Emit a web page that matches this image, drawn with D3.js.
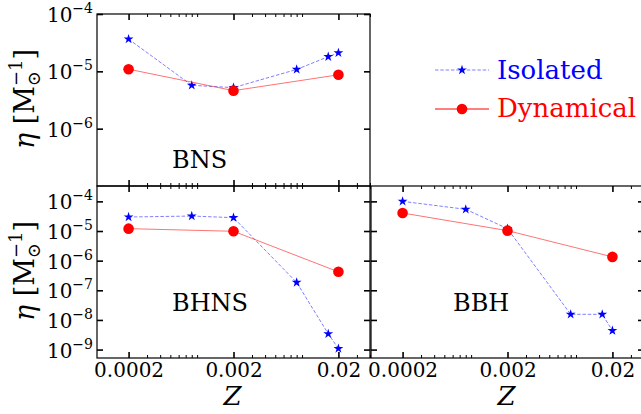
<!DOCTYPE html>
<html><head><meta charset="utf-8">
<script src="https://cdn.jsdelivr.net/npm/d3@7"></script>
<style>
html,body{margin:0;padding:0;background:#fff;}
svg{display:block;}
</style></head>
<body><svg id="c" width="641" height="414" font-family="'DejaVu Serif', 'Liberation Serif', serif"></svg>
<script>
// ---------- data ----------
const zIso = [0.0002, 0.0008, 0.002, 0.008, 0.016, 0.02];
const zDyn = [0.0002, 0.002, 0.02];
const bnsIso  = [3.65e-5, 5.7e-6, 5.2e-6, 1.08e-5, 1.8e-5, 2.1e-5];
const bnsDyn  = [1.09e-5, 4.6e-6, 8.7e-6];
const bhnsIso = [2.97e-5, 3.2e-5, 2.82e-5, 1.84e-7, 3.4e-9, 1.08e-9];
const bhnsDyn = [1.2e-5, 9.8e-6, 4.2e-7];
const bbhIso  = [1.0e-4, 5.4e-5, 1.2e-5, 1.55e-8, 1.55e-8, 4.35e-9];
const bbhDyn  = [4.05e-5, 1.03e-5, 1.34e-6];
const xTickValues = [0.0002, 0.002, 0.02];
const xTickLabels = ["0.0002", "0.002", "0.02"];
const seriesNames = ["Isolated", "Dynamical"];
const panelNames = ["BNS", "BHNS", "BBH"];

// ---------- layout ----------
const FONT = "'DejaVu Serif', 'Liberation Serif', serif";
const svg = d3.select("#c");
const colX = [97, 371], rowY = [14, 186], PW = 273, PH = 172;
const xDomain = [1e-4, 0.04];
const minorX = [];
for (let e = -4; e <= -2; e++) for (let k = 2; k <= 9; k++) {
  const v = k * Math.pow(10, e);
  if (v >= xDomain[0] && v <= xDomain[1] * 1.0001 && !xTickValues.some(t => Math.abs(t - v) / v < 1e-6)) minorX.push(v);
}
const panels = [
  {name: panelNames[0], col: 0, row: 0, iso: bnsIso, dyn: bnsDyn, ydom: [1e-7, 1e-4], yt: [1e-4, 1e-5, 1e-6], xl: false, yl: true, lab: [75, 154]},
  {name: panelNames[1], col: 0, row: 1, iso: bhnsIso, dyn: bhnsDyn, ydom: [5.2e-10, 3.3e-4], yt: [1e-4,1e-5,1e-6,1e-7,1e-8,1e-9], xl: true, yl: true, lab: [75, 125]},
  {name: panelNames[2], col: 1, row: 1, iso: bbhIso, dyn: bbhDyn, ydom: [5.2e-10, 3.3e-4], yt: [1e-4,1e-5,1e-6,1e-7,1e-8,1e-9], xl: true, yl: false, lab: [82, 125]}
];
const blue = "#0000ff", red = "#ff0000";
const star = d3.symbol(d3.symbolStar).size(30);

panels.forEach(p => {
  const x0 = colX[p.col], y0 = rowY[p.row];
  const g = svg.append("g").attr("transform", `translate(${x0},${y0})`);
  const x = d3.scaleLog().domain(xDomain).range([0, PW]);
  const y = d3.scaleLog().domain(p.ydom).range([PH, 0]);

  const line = d3.line().x(d => x(d[0])).y(d => y(d[1]));
  const iso = zIso.map((z, i) => [z, p.iso[i]]);
  const dyn = zDyn.map((z, i) => [z, p.dyn[i]]);
  g.append("path").attr("d", line(iso)).attr("fill", "none").attr("stroke", blue)
    .attr("stroke-opacity", 0.5).attr("stroke-width", 1).attr("stroke-dasharray", "3.5,1.8");
  g.selectAll(".st").data(iso).join("path").attr("d", star)
    .attr("transform", d => `translate(${x(d[0])},${y(d[1])})`).attr("fill", blue);
  g.append("path").attr("d", line(dyn)).attr("fill", "none").attr("stroke", red)
    .attr("stroke-opacity", 0.55).attr("stroke-width", 1);
  g.selectAll(".ci").data(dyn).join("circle").attr("cx", d => x(d[0])).attr("cy", d => y(d[1]))
    .attr("r", 5.3).attr("fill", red);

  const styleAx = (sel, w) => {
    sel.attr("font-family", FONT);
    sel.select(".domain").remove();
    sel.selectAll(".tick line").attr("stroke", "#000").attr("stroke-width", w);
  };
  const bx = g.append("g").attr("transform", `translate(0,${PH})`)
    .call(d3.axisBottom(x).tickValues(xTickValues).tickSize(-6).tickPadding(5)
      .tickFormat((d, i) => p.xl ? xTickLabels[i] : ""));
  styleAx(bx, 1.6);
  bx.selectAll("text").attr("font-family", FONT).attr("font-size", 20).attr("fill", "#000");
  const bxm = g.append("g").attr("transform", `translate(0,${PH})`)
    .call(d3.axisBottom(x).tickValues(minorX).tickSize(-3).tickFormat(""));
  styleAx(bxm, 1);
  const tx = g.append("g").call(d3.axisTop(x).tickValues(xTickValues).tickSize(-6).tickFormat(""));
  styleAx(tx, 1.6);
  const txm = g.append("g").call(d3.axisTop(x).tickValues(minorX).tickSize(-3).tickFormat(""));
  styleAx(txm, 1);
  const ly = g.append("g").call(d3.axisLeft(y).tickValues(p.yt).tickSize(-6).tickPadding(4)
    .tickFormat(d => p.yl ? String(Math.round(Math.log10(d))) : ""));
  styleAx(ly, 1.6);
  if (p.yl) {
    ly.selectAll(".tick text").each(function(d) {
      const t = d3.select(this);
      const e = Math.round(Math.log10(d));
      t.text(null).attr("dy", null).attr("y", 7.5).attr("fill", "#000")
        .attr("font-family", FONT).attr("font-size", 20).attr("text-anchor", "end");
      t.append("tspan").text("10");
      t.append("tspan").attr("font-size", 14).attr("dy", -9).text("\u2212" + Math.abs(e));
    });
  }
  const ry = g.append("g").attr("transform", `translate(${PW},0)`)
    .call(d3.axisRight(y).tickValues(p.yt).tickSize(-6).tickFormat(""));
  styleAx(ry, 1.6);

  g.append("rect").attr("width", PW).attr("height", PH).attr("fill", "none")
    .attr("stroke", "#000").attr("stroke-width", 1.2);

  g.append("text").attr("x", p.lab[0]).attr("y", p.lab[1]).attr("font-size", 24)
    .attr("font-family", FONT).attr("fill", "#000").text(p.name);

  if (p.xl) {
    g.append("text").attr("x", PW / 2 - 1).attr("y", PH + 47).attr("text-anchor", "middle")
      .attr("font-family", FONT).attr("font-size", 26).attr("font-style", "italic").attr("fill", "#000").text("Z");
  }
  if (p.yl) {
    const t = svg.append("text").attr("transform", `translate(${34},${y0 + PH / 2 - 1}) rotate(-90)`)
      .attr("text-anchor", "middle").attr("font-family", FONT).attr("font-size", 27).attr("fill", "#000");
    t.append("tspan").attr("font-style", "italic").text("\u03b7");
    t.append("tspan").text(" [M");
    t.append("tspan").attr("font-size", 18).attr("dy", 6).text("\u2299");
    t.append("tspan").attr("font-size", 18).attr("dx", -15).attr("dy", -18).text("\u22121");
    t.append("tspan").attr("dy", 12).text("]");
  }
});

const lg = svg.append("g").attr("font-family", FONT);
const legY = [70, 109];
lg.append("line").attr("x1", 435).attr("x2", 489).attr("y1", legY[0]).attr("y2", legY[0])
  .attr("stroke", blue).attr("stroke-opacity", 0.5).attr("stroke-width", 1).attr("stroke-dasharray", "3.5,1.8");
lg.append("path").attr("d", star).attr("transform", `translate(462,${legY[0]})`).attr("fill", blue);
lg.append("line").attr("x1", 435).attr("x2", 489).attr("y1", legY[1]).attr("y2", legY[1])
  .attr("stroke", red).attr("stroke-width", 1.2);
lg.append("circle").attr("cx", 462).attr("cy", legY[1]).attr("r", 5.3).attr("fill", red);
lg.append("text").attr("x", 497).attr("y", 78.5).attr("font-size", 26).attr("fill", blue).text(seriesNames[0]);
lg.append("text").attr("x", 497).attr("y", 116.5).attr("font-size", 26).attr("fill", red).text(seriesNames[1]);
</script></body></html>
